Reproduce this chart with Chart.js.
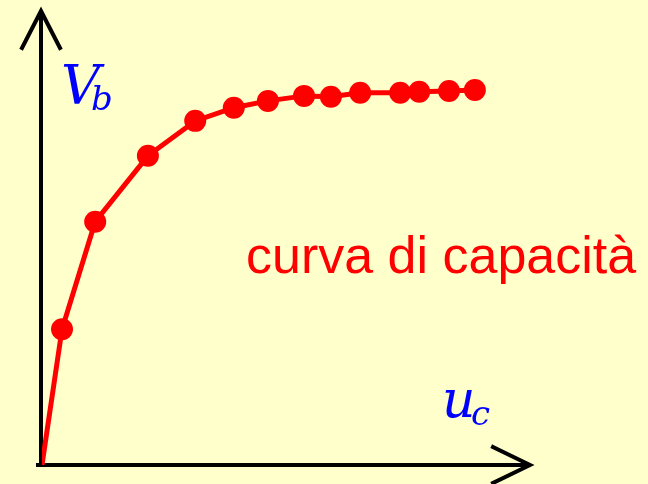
<!DOCTYPE html>
<html>
<head>
<meta charset="utf-8">
<script src="https://cdn.jsdelivr.net/npm/chart.js@4"></script>
<style>
    body { margin: 0; background: #FFFFCC; }
    #wrap { width: 648px; height: 484px; }
</style>
</head>
<body>
<div id="wrap"><canvas id="capChart"></canvas></div>
<script>
// curva di capacità: spostamento u_c vs taglio alla base V_b (unità relative)
const uc = [0, 4.1, 10.9, 21.7, 31.4, 39.3, 46.3, 53.7, 59.2, 65.2, 73.4, 77.3, 83.4, 88.7];
const vb = [0, 29.9, 53.6, 68.1, 75.8, 78.7, 80.2, 81.3, 81.1, 82.0, 82.0, 82.2, 82.4, 82.6];
const curveLabel = "curva di capacità";

// ======================
// Assi con frecce + etichette
// ======================
const axesPlugin = {
    id: "axesArrows",
    beforeDatasetsDraw(chart) {
        const { ctx, scales: { x, y } } = chart;
        const x0 = x.getPixelForValue(0) - 1;
        const y0 = y.getPixelForValue(0);
        const top = y.getPixelForValue(100);
        const right = x.getPixelForValue(100);

        ctx.save();
        ctx.strokeStyle = "#000";
        ctx.lineWidth = 4;
        ctx.lineCap = "butt";
        ctx.beginPath();
        // asse verticale
        ctx.moveTo(x0, y0);
        ctx.lineTo(x0, top);
        // asse orizzontale
        ctx.moveTo(x0 - 5, y0);
        ctx.lineTo(right, y0);
        ctx.stroke();

        ctx.lineCap = "square";
        ctx.beginPath();
        ctx.moveTo(x0 - 19, top + 37);
        ctx.lineTo(x0, top);
        ctx.lineTo(x0 + 19, top + 37);
        ctx.moveTo(right - 37, y0 - 18);
        ctx.lineTo(right, y0);
        ctx.lineTo(right - 37, y0 + 18);
        ctx.stroke();
        ctx.restore();
    },
    afterDraw(chart) {
        const { ctx } = chart;
        const serif = "'DejaVu Serif', serif";
        ctx.save();
        ctx.textBaseline = "alphabetic";
        ctx.textAlign = "left";

        ctx.fillStyle = "#0000FF";
        ctx.font = "italic 54px " + serif;
        ctx.fillText("V", 61, 104);
        ctx.font = "italic 34px " + serif;
        ctx.fillText("b", 91, 110);

        ctx.font = "italic 52px " + serif;
        ctx.fillText("u", 442, 417);
        ctx.font = "italic 34px " + serif;
        ctx.fillText("c", 471, 425);

        ctx.fillStyle = "#FF0000";
        ctx.font = "52px 'Liberation Sans', Arial, sans-serif";
        ctx.fillText(curveLabel, 246, 273);
        ctx.restore();
    }
};

new Chart(document.getElementById("capChart"), {
    type: "scatter",
    data: {
        datasets: [{
            label: curveLabel,
            data: uc.map((u, i) => ({ x: u, y: vb[i] })),
            showLine: true,
            borderColor: "#FF0000",
            borderWidth: 5,
            backgroundColor: "#FF0000",
            pointRadius: uc.map((u, i) => i === 0 ? 0 : 11),
            pointHoverRadius: 11,
            pointBorderWidth: 0,
            tension: 0
        }]
    },
    options: {
        responsive: true,
        maintainAspectRatio: false,
        animation: false,
        layout: { padding: { left: 42, right: 118, top: 10, bottom: 19 } },
        plugins: {
            legend: { display: false },
            tooltip: { enabled: false }
        },
        scales: {
            x: { type: "linear", min: 0, max: 100, display: false },
            y: { type: "linear", min: 0, max: 100, display: false }
        }
    },
    plugins: [axesPlugin]
});
</script>
</body>
</html>
